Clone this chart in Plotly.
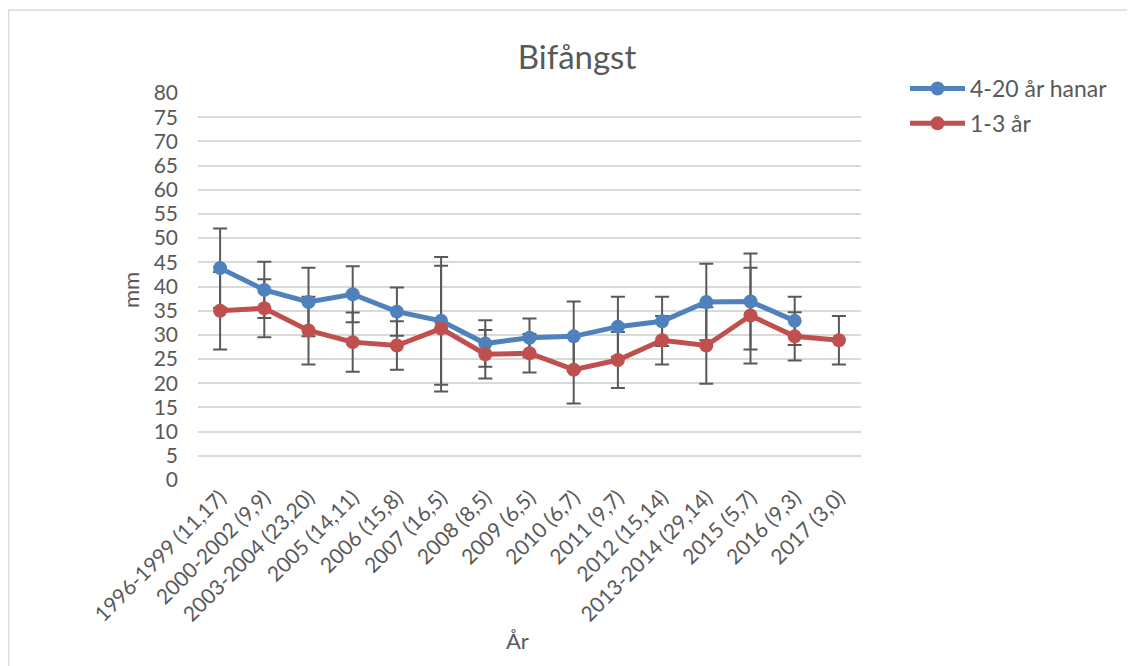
import plotly.graph_objects as go

categories = ["1996-1999 (11,17)", "2000-2002 (9,9)", "2003-2004 (23,20)", "2005 (14,11)",
              "2006 (15,8)", "2007 (16,5)", "2008 (8,5)", "2009 (6,5)", "2010 (6,7)",
              "2011 (9,7)", "2012 (15,14)", "2013-2014 (29,14)", "2015 (5,7)",
              "2016 (9,3)", "2017 (3,0)"]
blue_vals = [43.8, 39.3, 36.8, 38.4, 34.8, 32.9, 28.2, 29.4, 29.7, 31.7, 32.8, 36.8, 36.9, 32.9, None]
blue_err = [8.2, 5.8, 7.1, 5.8, 5.0, 13.2, 4.8, 4.0, 7.2, 6.2, 5.1, 7.9, 9.9, 5.0, None]
red_vals = [35.0, 35.5, 30.9, 28.5, 27.8, 31.3, 26.0, 26.2, 22.8, 24.8, 28.9, 27.8, 34.0, 29.7, 28.9]
red_err = [8.0, 6.0, 7.0, 6.1, 5.0, 13.0, 5.0, 4.0, 7.0, 5.8, 5.0, 7.9, 9.9, 5.0, 5.0]
y_ticks = list(range(0, 85, 5))

BLUE = "#4F81BD"
RED = "#C0504D"
ERR = "#595959"
TXT = "#595959"
FONT = "Lato"

# page has an 8px body margin; work in page pixels and convert
OFF = 8
W, H = 1135, 666
P_LEFT, P_RIGHT, P_TOP, P_BOTTOM = 198, 861, 93, 480  # plot area in page px
L = P_LEFT - OFF
T = P_TOP - OFF
R = W - (P_RIGHT - OFF)
B = H - (P_BOTTOM - OFF)
pw = P_RIGHT - P_LEFT
ph = P_BOTTOM - P_TOP

def px2x(px):
    return (px - P_LEFT) / pw

def py2y(py):
    return (P_BOTTOM - py) / ph

fig = go.Figure()

# error bars (drawn first so markers sit on top)
for vals, errs in ((blue_vals, blue_err), (red_vals, red_err)):
    fig.add_trace(go.Scatter(
        x=categories, y=vals, mode="markers",
        marker=dict(size=1, color="rgba(0,0,0,0)"),
        error_y=dict(type="data", array=errs, visible=True, color=ERR,
                     thickness=2, width=7),
        showlegend=False, hoverinfo="skip"))

fig.add_trace(go.Scatter(
    x=categories, y=blue_vals, mode="lines+markers", name="4-20 år hanar",
    legendgroup="a",
    line=dict(color=BLUE, width=5), marker=dict(size=14, color=BLUE)))
fig.add_trace(go.Scatter(
    x=categories, y=red_vals, mode="lines+markers", name="1-3 år",
    legendgroup="b",
    line=dict(color=RED, width=5), marker=dict(size=14, color=RED)))

fig.update_layout(
    width=W, height=H,
    margin=dict(l=L, r=R, t=T, b=B),
    paper_bgcolor="white", plot_bgcolor="white",
    font=dict(family=FONT, color=TXT, size=20),
    title=dict(text="Bifångst", x=px2x(577), xref="paper", xanchor="center",
               y=1 - (57 - OFF) / H, yanchor="middle",
               font=dict(size=33, color=TXT, family=FONT)),
    showlegend=True,
    legend=dict(x=px2x(905), y=py2y(67), xanchor="left", yanchor="top",
                font=dict(size=23, color=TXT, family=FONT),
                bgcolor="rgba(0,0,0,0)", itemwidth=55, tracegroupgap=2),
    xaxis=dict(type="category", tickangle=-45, showgrid=False, showline=False,
               zeroline=False, ticks="", tickfont=dict(size=21, color=TXT),
               range=[-0.5, len(categories) - 0.5]),
    yaxis=dict(range=[0, 80], tickvals=y_ticks, showgrid=True, gridcolor="#D9D9D9",
               gridwidth=1.5, zeroline=False, showline=False, ticks="",
               tickfont=dict(size=21, color=TXT), ticklabelstandoff=19),
    annotations=[
        dict(text="mm", xref="paper", yref="paper", x=px2x(130), y=py2y(290),
             xanchor="center", yanchor="middle",
             showarrow=False, textangle=-90, font=dict(size=22, color=TXT)),
        dict(text="År", xref="paper", yref="paper", x=px2x(517), y=py2y(640),
             xanchor="center", yanchor="middle",
             showarrow=False, font=dict(size=22, color=TXT)),
    ],
    shapes=[
        dict(type="line", xref="paper", yref="paper", x0=px2x(8.5), x1=px2x(8.5),
             y0=py2y(10), y1=py2y(H + 20), line=dict(color="#D9D9D9", width=1.5)),
        dict(type="line", xref="paper", yref="paper", x0=px2x(8.5), x1=px2x(W + 20),
             y0=py2y(10), y1=py2y(10), line=dict(color="#D9D9D9", width=1.5)),
    ],
)

fig.write_html("out.html")
